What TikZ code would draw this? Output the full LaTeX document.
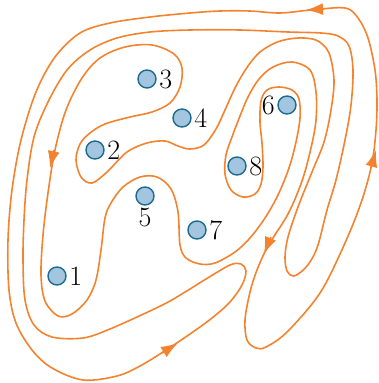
\documentclass[tikz,border=0pt]{standalone}
\usetikzlibrary{arrows.meta}
\definecolor{curveor}{HTML}{F4832F}
\definecolor{ptfill}{HTML}{A4C5E0}
\definecolor{ptdraw}{HTML}{1C6B8C}
\begin{document}
\begin{tikzpicture}[x=1pt,y=-1pt,
  curve/.style={draw=curveor,line width=1.6pt,line join=round},
  pt/.style={circle,draw=ptdraw,fill=ptfill,line width=1.4pt,minimum size=18pt,inner sep=0pt},
  lab/.style={inner sep=2.5pt,font=\fontsize{28}{30}\selectfont},
  arr/.style={draw=curveor,line width=1.6pt,-{Latex[length=17pt,width=12pt]}}]
\useasboundingbox (0,0) rectangle (378,383);
\begin{scope}
\clip (0,0) rectangle (378,383);
\draw[curve] plot[smooth cycle,tension=0.55] coordinates {
(345,8) (311,10) (280,13) (250,11) (220,11) (190,13) (150,17) (110,23) (80,33)
(55,57) (36,92) (21,140) (12,190) (8,240) (9,290) (16,323) (32,350) (52,368)
(83,380) (117,376) (140,366) (163,352) (190,334) (212,318) (230,302) (242,285)
(246,271) (241,264) (230,265) (206,279) (190,289) (170,301) (150,311) (110,329)
(83,338) (52,337) (34,325) (25,300) (23,260) (24,220) (27,180) (34,137) (48,102)
(67,70) (90,50) (117,38) (150,32) (190,30) (240,30) (288,32) (321,33) (338,36)
(349,46) (353,70) (351,105) (345,140) (336,180) (327,210) (318,245) (310,262)
(301,272) (293,276) (287,271) (285,257) (288,237) (298,207) (312,172) (324,142)
(331,110) (334,80) (329,53) (318,41) (304,38) (289,39) (275,43) (260,52) (248,66)
(236,86) (225,110) (216,129) (204,145) (190,149) (178,146) (165,141) (147,143)
(127,152) (107,172) (92,183) (81,177) (76,160) (80,144) (90,133) (105,124)
(130,117) (152,112) (170,103) (180,87) (182,68) (174,54) (152,45) (125,47)
(100,58) (82,78) (66,110) (55,150) (48,193) (43,235) (41,275) (45,301) (58,316)
(72,314) (87,300) (96,280) (101,250) (105,218) (111,203) (123,187) (140,177)
(157,177) (171,189) (178,212) (180,245) (186,258) (200,264) (215,263) (235,252)
(250,238) (265,218) (278,195) (289,168) (296,142) (300,118) (299,99) (292,90)
(279,87) (267,90) (261,101) (260,122) (262,143) (263,167) (261,184) (255,194)
(243,197) (231,190) (225,174) (226,155) (232,137) (240,116) (248,97) (259,79)
(273,67) (292,62) (310,70) (316,92) (316,120) (311,148) (302,181) (288,214)
(268,246) (257,270) (250,292) (245,320) (247,340) (256,348) (266,347) (287,332)
(320,293) (345,243) (362,200) (372,163) (376,130) (377,100) (375,70) (368,38)
(358,18)};
\end{scope}
% arrowheads along the curve
\coordinate (t1) at (306,10);   \coordinate (s1) at (324,9);
\coordinate (t2) at (50,168);   \coordinate (s2) at (54,150);
\coordinate (t3) at (178,343);  \coordinate (s3) at (162,353);
\coordinate (t4) at (264,254);  \coordinate (s4) at (271,237);
\coordinate (t5) at (376,150);  \coordinate (s5) at (371,168);
\draw[arr] (s1) -- (t1);
\draw[arr] (s2) -- (t2);
\draw[arr] (s3) -- (t3);
\draw[arr] (s4) -- (t4);
\draw[arr] (s5) -- (t5);
% points
\node[pt] (c1) at (57,276) {};
\node[pt] (c2) at (95,150) {};
\node[pt] (c3) at (147,79) {};
\node[pt] (c4) at (182,118) {};
\node[pt] (c5) at (145,196) {};
\node[pt] (c6) at (287,105) {};
\node[pt] (c7) at (197,230) {};
\node[pt] (c8) at (237,166) {};
\node[lab,anchor=west] (l1) at (c1.east) {1};
\node[lab,anchor=west] (l2) at (c2.east) {2};
\node[lab,anchor=west] (l3) at (c3.east) {3};
\node[lab,anchor=west] (l4) at (c4.east) {4};
\node[lab,anchor=north] (l5) at (c5.south) {5};
\node[lab,anchor=east] (l6) at (c6.west) {6};
\node[lab,anchor=west] (l7) at (c7.east) {7};
\node[lab,anchor=west] (l8) at (c8.east) {8};
\end{tikzpicture}
\end{document}
